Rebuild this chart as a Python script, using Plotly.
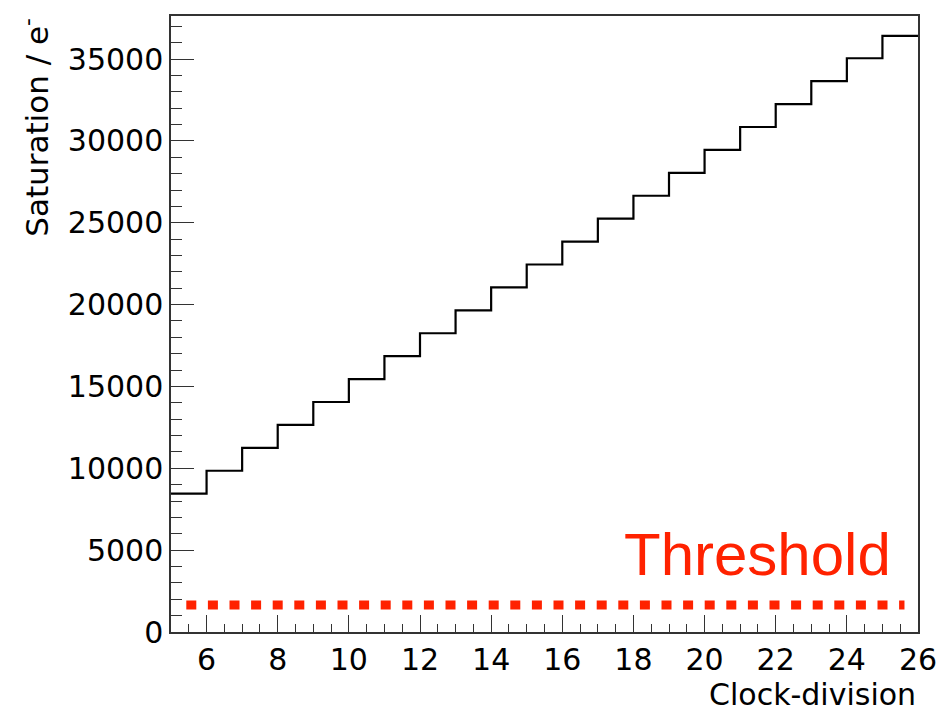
import plotly.graph_objects as go

bin_edges = [5, 6, 7, 8, 9, 10, 11, 12, 13, 14, 15, 16, 17, 18, 19, 20, 21, 22, 23, 24, 25, 26]
saturation = [8450, 9850, 11250, 12650, 14050, 15450, 16850, 18250, 19650, 21050, 22450,
              23850, 25250, 26650, 28050, 29450, 30850, 32250, 33650, 35050, 36420]
threshold_x = [5.43, 25.62]
threshold_y = [1650, 1650]

AXFONT = "DejaVu Sans, sans-serif"
TFONT = "Liberation Sans, Arial, Helvetica, sans-serif"

fig = go.Figure()
fig.add_trace(go.Scatter(
    x=bin_edges, y=saturation + [saturation[-1]],
    mode="lines", line=dict(color="black", width=2.2, shape="hv"),
    showlegend=False, hoverinfo="skip"))
fig.add_trace(go.Scatter(
    x=threshold_x, y=threshold_y, mode="lines",
    line=dict(color="#ff2200", width=9, dash="10px,11.6px"),
    showlegend=False, hoverinfo="skip"))

fig.add_annotation(x=25.3, y=4750, xref="x", yref="y", text="Threshold",
                   showarrow=False, xanchor="right", yanchor="middle",
                   font=dict(family=TFONT, size=60, color="#ff2200"))
fig.add_annotation(x=-0.183, y=1.0, xref="paper", yref="paper",
                   text="Saturation / e<sup>-</sup>", textangle=-90,
                   showarrow=False, xanchor="center", yanchor="top",
                   font=dict(family=AXFONT, size=31, color="black"))
fig.add_annotation(x=1.0, y=-0.0695, xref="paper", yref="paper",
                   text="Clock-division", showarrow=False,
                   xanchor="right", yanchor="top",
                   font=dict(family=AXFONT, size=30, color="black"))

fig.update_layout(
    width=938, height=707,
    margin=dict(l=171, r=20, t=16, b=75),
    paper_bgcolor="white", plot_bgcolor="white",
    font=dict(family=AXFONT, size=30, color="black"),
    xaxis=dict(range=[5, 26], tickmode="linear", tick0=6, dtick=2,
               ticks="inside", ticklen=17, tickwidth=1.3, tickcolor="#333",
               minor=dict(dtick=0.5, ticks="inside", ticklen=8, tickwidth=1.3, tickcolor="#333"),
               showgrid=False, zeroline=False, automargin=False,
               showline=True, linecolor="#333", linewidth=1.5, mirror=True,
               tickfont=dict(size=30)),
    yaxis=dict(range=[0, 37630], tickmode="linear", tick0=0, dtick=5000,
               tickformat="d", ticks="inside", ticklen=23, tickwidth=1.3, tickcolor="#333",
               minor=dict(dtick=1000, ticks="inside", ticklen=11, tickwidth=1.3, tickcolor="#333"),
               showgrid=False, zeroline=False, automargin=False,
               showline=True, linecolor="#333", linewidth=1.5, mirror=True,
               tickfont=dict(size=30)),
)

fig.write_html("out.html", config={"displayModeBar": False},
               post_script="document.body.style.margin='0';document.body.style.overflow='hidden';")
